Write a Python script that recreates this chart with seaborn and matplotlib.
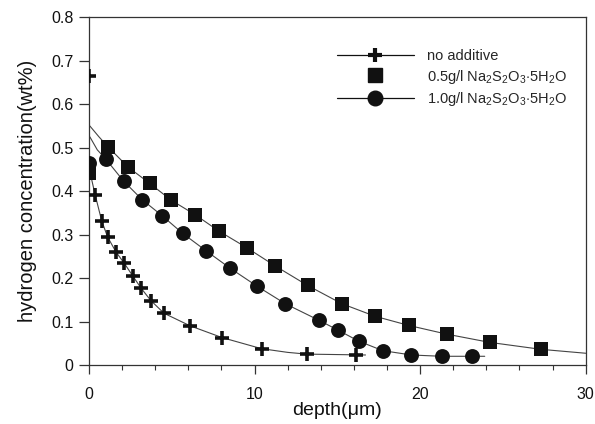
import matplotlib
matplotlib.use("Agg")
import matplotlib.pyplot as plt
from matplotlib.lines import Line2D
from matplotlib.ticker import MultipleLocator
import seaborn as sns
import pandas as pd

sns.set_theme(style="ticks")
plt.rcParams["font.family"] = ["Liberation Sans", "DejaVu Sans"]
plt.rcParams["mathtext.fontset"] = "custom"
plt.rcParams["mathtext.rm"] = "Liberation Sans"
plt.rcParams["mathtext.it"] = "Liberation Sans"

# measured hydrogen profiles (depth in um, concentration in wt%)
plain_x = [0.0, 0.38, 0.77, 1.13, 1.63, 2.13, 2.64, 3.16, 3.74, 4.53, 6.11, 8.04, 10.42, 13.14, 16.13]
plain_y = [0.665, 0.39, 0.331, 0.294, 0.26, 0.234, 0.205, 0.176, 0.148, 0.119, 0.09, 0.063, 0.0375, 0.025, 0.024]

half_x = [0.0, 1.17, 2.37, 3.66, 4.97, 6.4, 7.85, 9.52, 11.24, 13.2, 15.27, 17.28, 19.31, 21.6, 24.2, 27.3]
half_y = [0.441, 0.501, 0.455, 0.418, 0.379, 0.346, 0.308, 0.27, 0.228, 0.183, 0.141, 0.112, 0.091, 0.071, 0.052, 0.036]

one_x = [0.0, 1.03, 2.09, 3.22, 4.43, 5.65, 7.06, 8.51, 10.12, 11.85, 13.88, 15.05, 16.28, 17.74, 19.47, 21.29, 23.13]
one_y = [0.464, 0.473, 0.423, 0.38, 0.343, 0.303, 0.263, 0.223, 0.182, 0.141, 0.103, 0.08, 0.055, 0.033, 0.023, 0.02, 0.02]

# fitted profile curves
plain_fit_x = [0.0, 0.02, 0.38, 0.77, 1.13, 1.63, 2.13, 2.64, 3.16, 3.74, 4.53, 6.11, 8.04, 10.42, 12.0, 13.14, 16.7]
plain_fit_y = [0.665, 0.45, 0.39, 0.331, 0.294, 0.26, 0.234, 0.205, 0.176, 0.148, 0.119, 0.09, 0.063, 0.0375, 0.029, 0.025, 0.023]

half_fit_x = [0.05, 0.6, 1.17, 2.37, 3.66, 4.97, 6.4, 7.85, 9.52, 11.24, 13.2, 15.27, 17.28, 19.31, 21.6, 24.2, 27.3, 30.0]
half_fit_y = [0.55, 0.525, 0.501, 0.455, 0.418, 0.379, 0.346, 0.308, 0.27, 0.228, 0.183, 0.141, 0.112, 0.091, 0.071, 0.052, 0.036, 0.027]

one_fit_x = [0.05, 0.5, 1.03, 2.09, 3.22, 4.43, 5.65, 7.06, 8.51, 10.12, 11.85, 13.88, 15.05, 16.28, 17.74, 19.47, 21.29, 23.13, 23.9]
one_fit_y = [0.525, 0.495, 0.473, 0.423, 0.38, 0.343, 0.303, 0.263, 0.223, 0.182, 0.141, 0.103, 0.08, 0.055, 0.033, 0.023, 0.02, 0.02, 0.02]

x_ticks = [0, 10, 20, 30]
x_tick_labels = ["0", "10", "20", "30"]
y_ticks = [0, 0.1, 0.2, 0.3, 0.4, 0.5, 0.6, 0.7, 0.8]
y_tick_labels = ["0", "0.1", "0.2", "0.3", "0.4", "0.5", "0.6", "0.7", "0.8"]

labels = ["no additive",
          r"0.5g/l Na$_2$S$_2$O$_3$$\cdot$5H$_2$O",
          r"1.0g/l Na$_2$S$_2$O$_3$$\cdot$5H$_2$O"]

fig = plt.figure(figsize=(5.95, 4.24), dpi=100)
ax = fig.add_axes([0.1496, 0.1392, 0.8348, 0.8200])

line_kw = dict(color="#444444", linewidth=0.8, estimator=None, sort=False, ax=ax, legend=False)
sns.lineplot(data=pd.DataFrame({"x": plain_fit_x, "y": plain_fit_y}), x="x", y="y", **line_kw)
sns.lineplot(data=pd.DataFrame({"x": half_fit_x, "y": half_fit_y}), x="x", y="y", **line_kw)
sns.lineplot(data=pd.DataFrame({"x": one_fit_x, "y": one_fit_y}), x="x", y="y", **line_kw)

sns.scatterplot(x=plain_x, y=plain_y, marker="+", s=90, linewidth=2.6, color="#111111", ax=ax, zorder=5)
sns.scatterplot(x=half_x, y=half_y, marker="s", s=95, linewidth=0, color="#111111", ax=ax, zorder=5)
sns.scatterplot(x=one_x, y=one_y, marker="o", s=115, linewidth=0, color="#111111", ax=ax, zorder=5)

ax.set_xlim(0, 30)
ax.set_ylim(0, 0.8)
ax.set_xticks(x_ticks)
ax.set_xticklabels(x_tick_labels)
ax.xaxis.set_minor_locator(MultipleLocator(2))
ax.set_yticks(y_ticks)
ax.set_yticklabels(y_tick_labels)

for s in ax.spines.values():
    s.set_linewidth(0.9)
    s.set_color("#333333")
ax.tick_params(axis="x", which="major", direction="out", length=6.5, width=0.9, color="#333333",
               labelsize=11.5, pad=9, labelcolor="#111111")
ax.tick_params(axis="x", which="minor", direction="out", length=3.6, width=0.8, color="#333333")
ax.tick_params(axis="y", which="major", direction="out", length=7, width=0.9, color="#333333",
               labelsize=11.5, pad=4, labelcolor="#111111")

ax.set_xlabel("depth(\u03bcm)", fontsize=14, color="#111111", labelpad=0)
ax.set_ylabel("hydrogen concentration(wt%)", fontsize=14.5, color="#111111", labelpad=10)

handles = [
    Line2D([], [], color="#111111", linewidth=0.9, marker="+", markersize=10, markeredgewidth=3),
    Line2D([], [], color="none", marker="s", markersize=9.5, markerfacecolor="#111111",
           markeredgecolor="#111111"),
    Line2D([], [], color="#111111", linewidth=0.9, marker="o", markersize=10.5,
           markerfacecolor="#111111", markeredgecolor="#111111"),
]
ax.legend(handles, labels, loc="upper left", bbox_to_anchor=(0.487, 0.925), frameon=False,
          fontsize=10.5, handlelength=5.3, handletextpad=0.9, labelspacing=0.3, borderaxespad=0)

fig.savefig("out.png", dpi=100)
